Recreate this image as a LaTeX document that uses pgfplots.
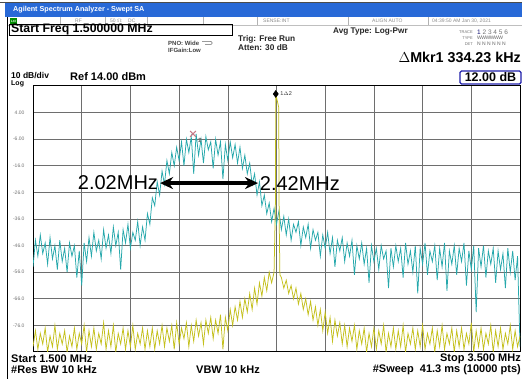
\documentclass[border=0pt]{standalone}
\usepackage{pgfplots}
\pgfplotsset{compat=1.18}
\usepackage{fontspec}
\setmainfont{Liberation Sans}
\usetikzlibrary{arrows.meta}
\definecolor{trcyan}{RGB}{38,168,172}
\definecolor{tryel}{RGB}{196,192,28}
\definecolor{titleblue}{RGB}{40,105,215}
\definecolor{gridc}{RGB}{110,110,110}
\definecolor{markblue}{RGB}{30,30,170}
\definecolor{xmark}{RGB}{200,120,135}
\newcommand{\fs}[1]{\fontsize{#1}{#1}\selectfont}
\begin{document}
\begin{tikzpicture}[x=1pt,y=1pt]
\fill[white] (0,0) rectangle (522,379);
\path[use as bounding box] (0,0) rectangle (522,379);
% title bar
\fill[titleblue] (5,362) rectangle (522,376);
\draw[black!70, line width=0.8pt] (0,377) -- (522,377);
\node[anchor=west, text=white, font=\fs{7.2}\bfseries, inner sep=0pt] at (13,369) {Agilent Spectrum Analyzer - Swept SA};
% status row
\draw[black!25, line width=0.4pt] (7,354) -- (522,354);
\foreach \xx in {60,105,147,203,257,348,428} {\draw[black!30, line width=0.4pt] (\xx,354) -- (\xx,362);}
\fill[green!55!black] (10,355) rectangle (17,361);
\node[text=white, font=\fs{3}\bfseries, inner sep=0pt] at (13.5,358) {LXI};
\begin{scope}[every node/.style={text=black!45, font=\fs{5}, inner sep=0pt, anchor=west}]
\node at (75,358) {RF};
\node at (110,358) {50 $\Omega$};
\node at (128,358) {DC};
\node at (263,358) {SENSE:INT};
\node at (372,358) {ALIGN AUTO};
\node at (432,358) {04:39:50 AM Jan 30, 2021};
\end{scope}
% left frame
\draw[black, line width=1pt] (7,0) -- (7,362);
% start freq box
\draw[black, line width=0.6pt] (9,344) rectangle (232,355);
\node[anchor=west, inner sep=0pt, font=\fs{12.3}\bfseries] at (11,349.5) {Start Freq 1.500000 MHz};
% settings
\node[anchor=west, inner sep=0pt, font=\fs{6}\bfseries, text=black!75] at (168,336) {PNO: Wide};
\draw[black!60, line width=0.5pt, rounded corners=1pt] (202,337.5) -- (212,337.5) -- (212,334.5) -- (205,334.5);
\node[anchor=west, inner sep=0pt, font=\fs{6}\bfseries, text=black!75] at (168,329) {IFGain:Low};
\node[anchor=west, inner sep=0pt, font=\fs{8.3}\bfseries, text=black!85] at (238,340) {Trig: Free Run};
\node[anchor=west, inner sep=0pt, font=\fs{8.3}\bfseries, text=black!85] at (238,331) {Atten: 30 dB};
\node[anchor=west, inner sep=0pt, font=\fs{8.2}\bfseries, text=black!85] at (333,347) {Avg Type: Log-Pwr};
\node[anchor=east, inner sep=0pt, font=\fs{4}, text=black!55] at (473,347) {TRACE};
\node[anchor=east, inner sep=0pt, font=\fs{4}, text=black!55] at (473,341) {TYPE};
\node[anchor=east, inner sep=0pt, font=\fs{4}, text=black!55] at (473,335) {DET};
\node[anchor=west, inner sep=0pt, font=\fs{6.5}, text=markblue!70!black] at (477,347) {1 \textcolor{black!55}{2 3 4 5 6}};
\node[anchor=west, inner sep=0pt, font=\fs{5}, text=black!60] at (477,341) {W\kern-0.5pt W\kern-0.5pt W\kern-0.5pt W\kern-0.5pt W\kern-0.5pt W};
\node[anchor=west, inner sep=0pt, font=\fs{5}, text=black!60] at (477,335) {N N N N N N};
% marker readout
\node[anchor=east, inner sep=0pt, font=\fs{14.3}\bfseries] at (521,321.5) {$\Delta$Mkr1 334.23 kHz};
\draw[markblue, line width=1.2pt, rounded corners=1.5pt] (460,295) rectangle (521,308);
\node[inner sep=0pt, font=\fs{12.5}\bfseries] at (490.5,301.5) {12.00 dB};
\node[anchor=west, inner sep=0pt, font=\fs{8.5}\bfseries] at (11,303) {10 dB/div};
\node[anchor=west, inner sep=0pt, font=\fs{11}\bfseries] at (70,302.5) {Ref 14.00 dBm};
\node[anchor=west, inner sep=0pt, font=\fs{7}\bfseries] at (11,295) {Log};
% bottom texts
\node[anchor=west, inner sep=0pt, font=\fs{11}\bfseries] at (11,20) {Start 1.500 MHz};
\node[anchor=west, inner sep=0pt, font=\fs{11}\bfseries] at (11,9.5) {\#Res BW 10 kHz};
\node[inner sep=0pt, font=\fs{11}\bfseries] at (228,9.5) {VBW 10 kHz};
\node[anchor=east, inner sep=0pt, font=\fs{11}\bfseries] at (521,20) {Stop 3.500 MHz};
\node[anchor=east, inner sep=0pt, font=\fs{11}\bfseries] at (521,9.5) {\#Sweep\ \ 41.3 ms (10000 pts)};
\begin{axis}[
  at={(33pt,27pt)}, anchor=south west,
  scale only axis, width=487pt, height=266pt,
  xmin=1.5, xmax=3.5, ymin=-86, ymax=14,
  xtick={1.7,1.9,2.1,2.3,2.5,2.7,2.9,3.1,3.3}, xticklabels={},
  ytick={-76,-66,-56,-46,-36,-26,-16,-6,4},
  yticklabels={-76.0,-66.0,-56.0,-46.0,-36.0,-26.0,-16.0,-6.00,4.00},
  yticklabel style={font=\fs{5}, text=black!55, xshift=-5pt},
  major tick length=0pt,
  grid=major, major grid style={draw=gridc, line width=0.6pt},
  axis line style={line width=1pt, black},
  axis background/.style={fill=white},
  clip=true,
]
\addplot[trcyan, line width=0.75pt] coordinates {
(1.50,-54)(1.51,-44)(1.52,-50)(1.53,-42)(1.54,-49)(1.55,-45)(1.56,-53)(1.57,-43)(1.58,-51)(1.59,-46)
(1.60,-55)(1.61,-44)(1.62,-52)(1.63,-47)(1.64,-56)(1.65,-45)(1.66,-50)(1.67,-46)(1.68,-58)(1.69,-48)
(1.70,-61)(1.71,-45)(1.72,-52)(1.73,-43)(1.74,-50)(1.75,-41)(1.76,-48)(1.77,-44)(1.78,-51)(1.79,-40)
(1.80,-47)(1.81,-42)(1.82,-49)(1.83,-39)(1.84,-46)(1.85,-41)(1.86,-55)(1.87,-40)(1.88,-45)(1.89,-38)
(1.90,-47)(1.91,-41)(1.92,-44)(1.93,-37)(1.94,-46)(1.95,-39)(1.96,-44)(1.97,-34)(1.98,-38)(1.99,-28)
(2.00,-31)(2.01,-22)(2.02,-27)(2.03,-18)(2.04,-23)(2.05,-14)(2.06,-19)(2.07,-11)(2.08,-16)(2.09,-9)
(2.10,-14)(2.11,-7)(2.12,-16)(2.13,-6)(2.14,-11)(2.15,-5)(2.16,-19)(2.17,-4)(2.18,-12)(2.19,-6)
(2.20,-15)(2.21,-5)(2.22,-10)(2.23,-7)(2.24,-17)(2.25,-6)(2.26,-12)(2.27,-7)(2.28,-21)(2.29,-8)
(2.30,-14)(2.31,-7)(2.32,-13)(2.33,-8)(2.34,-15)(2.35,-9)(2.36,-17)(2.37,-12)(2.38,-19)(2.39,-15)
(2.40,-23)(2.41,-19)(2.42,-27)(2.43,-22)(2.44,-31)(2.45,-27)(2.46,-34)(2.47,-30)(2.48,-37)(2.49,-32)
(2.50,-38)(2.51,-33)(2.52,-40)(2.53,-35)(2.54,-42)(2.55,-36)(2.56,-44)(2.57,-38)(2.58,-41)(2.59,-37)
(2.60,-46)(2.61,-39)(2.62,-43)(2.63,-38)(2.64,-47)(2.65,-40)(2.66,-44)(2.67,-41)(2.68,-50)(2.69,-42)
(2.70,-47)(2.71,-41)(2.72,-49)(2.73,-43)(2.74,-54)(2.75,-44)(2.76,-48)(2.77,-43)(2.78,-52)(2.79,-45)
(2.80,-50)(2.81,-44)(2.82,-57)(2.83,-46)(2.84,-51)(2.85,-45)(2.86,-53)(2.87,-47)(2.88,-60)(2.89,-46)
(2.90,-52)(2.91,-47)(2.92,-55)(2.93,-46)(2.94,-51)(2.95,-48)(2.96,-62)(2.97,-47)(2.98,-54)(2.99,-46)
(3.00,-52)(3.01,-47)(3.02,-58)(3.03,-45)(3.04,-53)(3.05,-48)(3.06,-56)(3.07,-46)(3.08,-64)(3.09,-47)
(3.10,-53)(3.11,-45)(3.12,-57)(3.13,-48)(3.14,-52)(3.15,-46)(3.16,-59)(3.17,-47)(3.18,-54)(3.19,-45)
(3.20,-63)(3.21,-48)(3.22,-53)(3.23,-46)(3.24,-57)(3.25,-47)(3.26,-52)(3.27,-45)(3.28,-61)(3.29,-48)
(3.30,-55)(3.31,-46)(3.32,-71)(3.33,-47)(3.34,-54)(3.35,-46)(3.36,-58)(3.37,-48)(3.38,-53)(3.39,-47)
(3.40,-60)(3.41,-48)(3.42,-55)(3.43,-49)(3.44,-62)(3.45,-47)(3.46,-56)(3.47,-48)(3.48,-59)(3.49,-50)
(3.50,-84)
};
\addplot[tryel, line width=0.75pt] coordinates {
(1.50,-84)(1.51,-78)(1.52,-85)(1.53,-79)(1.54,-83)(1.55,-77)(1.56,-86)(1.57,-80)(1.58,-84)(1.59,-76)
(1.60,-85)(1.61,-79)(1.62,-83)(1.63,-78)(1.64,-86)(1.65,-80)(1.66,-84)(1.67,-77)(1.68,-85)(1.69,-79)
(1.70,-83)(1.71,-76)(1.72,-86)(1.73,-78)(1.74,-84)(1.75,-77)(1.76,-85)(1.77,-79)(1.78,-83)(1.79,-75)
(1.80,-85)(1.81,-78)(1.82,-84)(1.83,-76)(1.84,-86)(1.85,-79)(1.86,-83)(1.87,-77)(1.88,-85)(1.89,-78)
(1.90,-84)(1.91,-76)(1.92,-85)(1.93,-79)(1.94,-83)(1.95,-77)(1.96,-85)(1.97,-78)(1.98,-84)(1.99,-77)
(2.00,-85)(2.01,-78)(2.02,-83)(2.03,-76)(2.04,-84)(2.05,-77)(2.06,-82)(2.07,-76)(2.08,-85)(2.09,-75)
(2.10,-83)(2.11,-77)(2.12,-81)(2.13,-75)(2.14,-84)(2.15,-76)(2.16,-82)(2.17,-74)(2.18,-80)(2.19,-75)
(2.20,-83)(2.21,-74)(2.22,-79)(2.23,-73)(2.24,-81)(2.25,-74)(2.26,-79)(2.27,-72)(2.28,-85)(2.29,-73)
(2.30,-78)(2.31,-70)(2.32,-76)(2.33,-69)(2.34,-74)(2.35,-67)(2.36,-73)(2.37,-66)(2.38,-71)(2.39,-64)
(2.40,-70)(2.41,-62)(2.42,-68)(2.43,-60)(2.44,-65)(2.45,-58)(2.46,-63)(2.47,-56)(2.48,-60)(2.49,-56)
(2.4955,-30)(2.497,11)(2.509,6)(2.511,-36)(2.514,-57)
(2.52,-58)(2.53,-62)(2.54,-59)(2.55,-64)(2.56,-61)(2.57,-66)(2.58,-62)(2.59,-68)
(2.60,-64)(2.61,-70)(2.62,-66)(2.63,-72)(2.64,-67)(2.65,-74)(2.66,-69)(2.67,-76)(2.68,-70)(2.69,-78)
(2.70,-71)(2.71,-79)(2.72,-73)(2.73,-82)(2.74,-74)(2.75,-80)(2.76,-75)(2.77,-83)(2.78,-76)(2.79,-84)
(2.80,-77)(2.81,-82)(2.82,-76)(2.83,-85)(2.84,-78)(2.85,-83)(2.86,-77)(2.87,-86)(2.88,-79)(2.89,-84)
(2.90,-77)(2.91,-85)(2.92,-78)(2.93,-83)(2.94,-76)(2.95,-86)(2.96,-79)(2.97,-84)(2.98,-77)(2.99,-85)
(3.00,-78)(3.01,-84)(3.02,-76)(3.03,-86)(3.04,-79)(3.05,-83)(3.06,-77)(3.07,-85)(3.08,-78)(3.09,-84)
(3.10,-76)(3.11,-85)(3.12,-79)(3.13,-83)(3.14,-77)(3.15,-86)(3.16,-78)(3.17,-84)(3.18,-76)(3.19,-85)
(3.20,-79)(3.21,-83)(3.22,-77)(3.23,-86)(3.24,-78)(3.25,-84)(3.26,-77)(3.27,-85)(3.28,-79)(3.29,-83)
(3.30,-75)(3.31,-86)(3.32,-78)(3.33,-84)(3.34,-77)(3.35,-85)(3.36,-79)(3.37,-83)(3.38,-76)(3.39,-86)
(3.40,-78)(3.41,-84)(3.42,-77)(3.43,-85)(3.44,-79)(3.45,-83)(3.46,-76)(3.47,-85)(3.48,-78)(3.49,-84)
(3.50,-80)
};
% markers
\addplot[only marks, mark=diamond*, mark size=3.5pt, black] coordinates {(2.497,11)};
\node[anchor=west, inner sep=0pt, font=\fs{5.5}, text=black!80] at (axis cs:2.515,11.3) {1$\Delta$2};
\addplot[only marks, mark=x, mark size=4pt, line width=1.1pt, xmark] coordinates {(2.157,-4)};
\node[inner sep=0pt, font=\fs{6}\bfseries, text=black!60] at (axis cs:2.186,-6.3) {2};
% annotation
\draw[{Stealth[length=13pt,width=12pt]}-{Stealth[length=13pt,width=12pt]}, line width=3.2pt, black] (axis cs:2.022,-22.5) -- (axis cs:2.424,-22.5);
\node[anchor=east, inner sep=0pt, font=\fs{20}] at (axis cs:2.014,-22.5) {2.02MHz};
\node[anchor=west, inner sep=0pt, font=\fs{20}] at (axis cs:2.431,-22.5) {2.42MHz};
\end{axis}
\end{tikzpicture}
\end{document}
